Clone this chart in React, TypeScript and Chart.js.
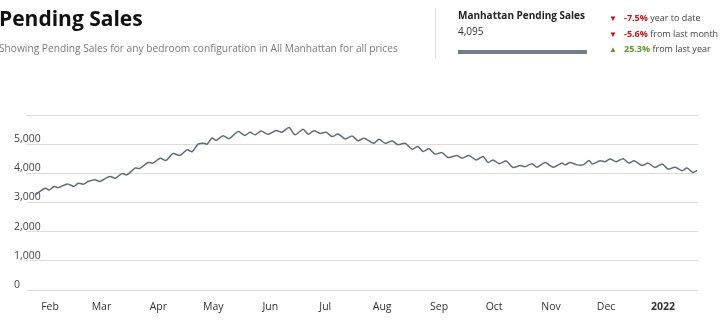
import React, { useEffect, useRef } from "react";
import { Chart, registerables } from "chart.js";

Chart.register(...registerables);

// Day index counted from Jan 1 2021 (day 0)
const saleDays = [
  22.8, 28.3, 30.5, 33.2, 35.4, 38.1, 40.8, 44.1, 46.3, 49.5, 51.7, 55.5, 58.2, 62.1, 64.2, 66.4, 70.2, 73.0, 77.3, 80.0,
  84.4, 87.1, 91.0, 94.2, 98.0, 101.8, 105.7, 108.4, 111.7, 114.9, 116.6, 119.3, 121.5, 125.3, 128.5, 133.5, 137.3, 140.0, 142.7,
  146.0, 149.8, 154.2, 157.4, 161.2, 164.5, 168.9, 171.6, 174.9, 178.1, 181.4, 184.7, 188.0, 191.8, 195.6, 198.8, 202.1, 205.4,
  207.6, 210.3, 213.6, 217.4, 220.6, 224.5, 228.3, 231.5, 234.3, 237.5, 240.8, 244.6, 247.9, 252.8, 255.5, 259.3, 263.2, 267.0,
  269.7, 272.4, 275.7, 279.5, 283.3, 287.1, 289.9, 293.7, 296.4, 300.8, 305.1, 310.0, 311.7, 314.4, 318.2, 321.5, 324.7, 326.4, 330.7,
  333.5, 336.2, 339.5, 343.3, 346.5, 349.3, 353.6, 356.9, 360.7, 364.5, 367.8, 371.6, 375.4, 378.1, 381.4, 383.6,
];

const pendingSales = [
  3260, 3490, 3430, 3550, 3510, 3580, 3630, 3550, 3660, 3630, 3720, 3780, 3720, 3860, 3890, 3830, 3990, 3950, 4180, 4170,
  4370, 4350, 4520, 4440, 4680, 4610, 4810, 4740, 5000, 5030, 5000, 5210, 5130, 5290, 5190, 5430, 5300, 5410, 5320,
  5450, 5340, 5470, 5410, 5570, 5320, 5510, 5340, 5460, 5370, 5410, 5260, 5350, 5180, 5280, 5120, 5200, 5090,
  5030, 5170, 5030, 5110, 4980, 5030, 4830, 4920, 4750, 4840, 4660, 4710, 4540, 4610, 4520, 4610, 4460, 4580,
  4370, 4460, 4330, 4420, 4200, 4270, 4230, 4330, 4210, 4370, 4210, 4350, 4290, 4370, 4290, 4290, 4440, 4320, 4430,
  4400, 4490, 4400, 4500, 4350, 4430, 4270, 4350, 4200, 4320, 4150, 4210, 4090, 4180, 4030, 4100,
];

const monthTickDays = [31, 59, 90, 120, 151, 181, 212, 243, 273, 304, 334, 365];
const monthTickLabels = ["Feb", "Mar", "Apr", "May", "Jun", "Jul", "Aug", "Sep", "Oct", "Nov", "Dec", "2022"];
const yTickValues = [0, 1000, 2000, 3000, 4000, 5000, 6000];

const statValues = ["-7.5%", "-5.6%", "25.3%"];
const statTexts = ["year to date", "from last month", "from last year"];
const statUp = [false, false, true];

const FONT = "'Open Sans', 'Noto Sans', sans-serif";

export default function App() {
  const canvasRef = useRef<HTMLCanvasElement | null>(null);

  useEffect(() => {
    document.body.style.margin = "0";
    const canvas = canvasRef.current;
    if (!canvas) return;
    const chart = new Chart(canvas, {
      type: "line",
      data: {
        datasets: [
          {
            data: saleDays.map((d, i) => ({ x: d, y: pendingSales[i] })),
            borderColor: "#5e6c7b",
            borderWidth: 1.5,
            pointRadius: 0,
            tension: 0.25,
            fill: false,
          },
        ],
      },
      options: {
        responsive: false,
        animation: false,
        layout: { padding: { left: 14, right: 22, top: 115, bottom: 7 } },
        plugins: { legend: { display: false }, tooltip: { enabled: false } },
        scales: {
          x: {
            type: "linear",
            min: 17.9,
            max: 384.1,
            grid: { display: false, drawTicks: false },
            border: { display: false },
            afterBuildTicks: (scale: any) => {
              scale.ticks = monthTickDays.map((v) => ({ value: v }));
            },
            afterFit: (scale: any) => {
              scale.height = 30;
            },
            ticks: {
              padding: 11,
              maxRotation: 0,
              autoSkip: false,
              color: "#333",
              font: (ctx: any) => ({
                family: FONT,
                size: 10.5,
                weight: ctx.tick && ctx.tick.value === 365 ? "bold" : "normal",
              }),
              callback: (v: any) => {
                const i = monthTickDays.indexOf(Number(v));
                return i >= 0 ? monthTickLabels[i] : "";
              },
            },
          },
          y: {
            min: 0,
            max: 6000,
            afterBuildTicks: (scale: any) => {
              scale.ticks = yTickValues.map((v) => ({ value: v }));
            },
            afterFit: (scale: any) => {
              scale.width = 12;
            },
            grid: { color: "#dcdcdc", lineWidth: 1, drawTicks: false },
            border: { display: false },
            ticks: {
              mirror: true,
              crossAlign: "near",
              padding: -12,
              labelOffset: -5,
              color: "#444",
              font: { family: FONT, size: 10.5 },
              callback: (v: any) => (Number(v) >= 6000 ? "" : Number(v).toLocaleString("en-US")),
            },
          },
        },
      },
    });
    return () => chart.destroy();
  }, []);

  const text = (extra: React.CSSProperties): React.CSSProperties => ({
    position: "absolute",
    fontFamily: FONT,
    whiteSpace: "nowrap",
    ...extra,
  });

  return (
    <div style={{ position: "relative", width: 720, height: 327, overflow: "hidden", background: "#fff" }}>
      <canvas ref={canvasRef} width={720} height={327} style={{ position: "absolute", left: 0, top: 0 }} />
      <div style={text({ left: -1, top: 8, fontSize: 21, lineHeight: "21px", fontWeight: 700, color: "#111" })}>
        Pending Sales
      </div>
      <div style={text({ left: -1, top: 43, fontSize: 10.2, lineHeight: "10px", color: "#7a7a7a" })}>
        Showing Pending Sales for any bedroom configuration in All Manhattan for all prices
      </div>
      <div style={{ position: "absolute", left: 435, top: 8, width: 1, height: 50, background: "#dedede" }} />
      <div style={text({ left: 458, top: 10, fontSize: 10, lineHeight: "10px", fontWeight: 700, color: "#222" })}>
        Manhattan Pending Sales
      </div>
      <div style={text({ left: 458, top: 26, fontSize: 10, lineHeight: "10px", color: "#333" })}>4,095</div>
      <div style={{ position: "absolute", left: 458, top: 50, width: 129, height: 3.5, background: "#6f7d8c" }} />
      {statValues.map((v, i) => (
        <div key={i} style={text({ left: 609, top: 13 + i * 15.5, fontSize: 9, lineHeight: "10px", color: "#444" })}>
          <span style={{ fontSize: 8, color: statUp[i] ? "#5f9b22" : "#b5121b", display: "inline-block", width: 15, verticalAlign: "0px" }}>
            {statUp[i] ? "▲" : "▼"}
          </span>
          <span style={{ fontWeight: 700, color: statUp[i] ? "#5f9b22" : "#c0141c" }}>{v}</span>
          <span> {statTexts[i]}</span>
        </div>
      ))}
    </div>
  );
}
